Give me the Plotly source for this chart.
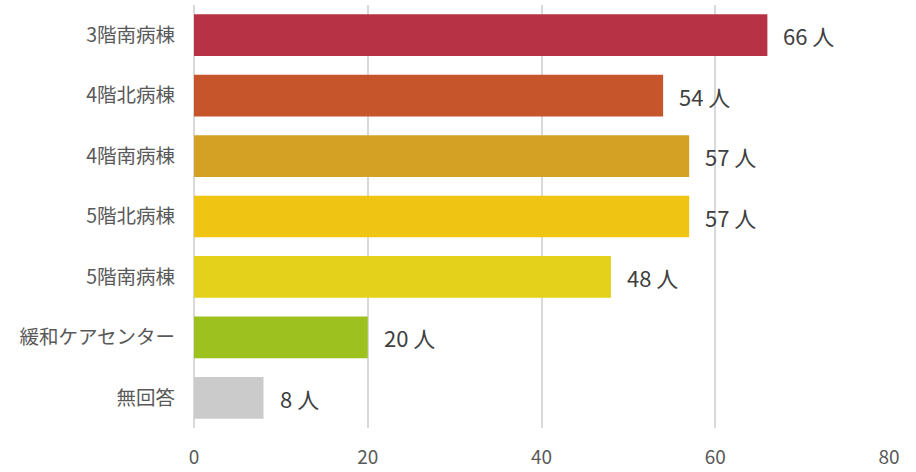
import plotly.graph_objects as go

# Respondents by ward
wards = ["3階南病棟", "4階北病棟", "4階南病棟", "5階北病棟", "5階南病棟", "緩和ケアセンター", "無回答"]
counts = [66, 54, 57, 57, 48, 20, 8]
bar_colors = ["#B83245", "#C6552B", "#D5A125", "#F0C412", "#E3D11C", "#9DC11F", "#CBCBCB"]
x_ticks = [0, 20, 40, 60, 80]

font_family = "Noto Sans CJK JP, Noto Sans, sans-serif"

fig = go.Figure(
    go.Bar(
        y=wards,
        x=counts,
        orientation="h",
        marker=dict(color=bar_colors, line=dict(width=0)),
        width=0.69,
        hoverinfo="skip",
    )
)

# value labels placed just right of each bar end
for w, c in zip(wards, counts):
    fig.add_annotation(
        x=c, y=w, xref="x", yref="y",
        text=f"{c} 人",
        showarrow=False,
        xanchor="left",
        xshift=14,
        font=dict(family=font_family, size=22, color="#404040"),
    )

fig.update_layout(
    width=916,
    height=472,
    margin=dict(l=194, r=27, t=5, b=44),
    paper_bgcolor="white",
    plot_bgcolor="white",
    showlegend=False,
    font=dict(family=font_family, size=19, color="#595959"),
)
fig.update_xaxes(
    range=[0, 80],
    tickvals=x_ticks,
    showgrid=True,
    gridcolor="#D9D9D9",
    gridwidth=1.5,
    zeroline=True,
    zerolinecolor="#D9D9D9",
    zerolinewidth=2,
    showline=False,
    ticks="",
    automargin=False,
    ticklabelstandoff=16,
    tickfont=dict(family=font_family, size=19, color="#595959"),
)
fig.update_yaxes(
    autorange="reversed",
    showgrid=False,
    showline=False,
    ticks="",
    automargin=False,
    ticklabelstandoff=18,
    tickfont=dict(family=font_family, size=19.5, color="#595959"),
)

fig.write_html("out.html")
